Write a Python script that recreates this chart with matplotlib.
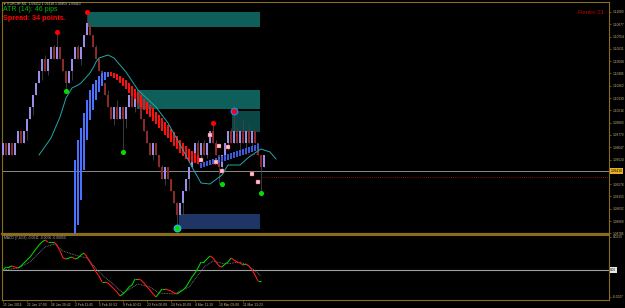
import matplotlib.pyplot as plt
from matplotlib.collections import LineCollection
from matplotlib.patches import Rectangle
import numpy as np

plt.rcParams['font.family'] = ['Liberation Sans', 'DejaVu Sans']

# EURCHF renko bricks (close of each brick, open = previous close)
first_open = 1.0957
closes = [1.0969, 1.0957, 1.0969, 1.0957, 1.0969, 1.0981, 1.0969, 1.0981,
          1.0993, 1.1005, 1.1017, 1.1029, 1.1041, 1.1053, 1.1041, 1.1053,
          1.1065, 1.1053, 1.1065, 1.1053, 1.1041, 1.1029, 1.1041, 1.1053,
          1.1065, 1.1053, 1.1065, 1.1077, 1.1089, 1.1077, 1.1065, 1.1053,
          1.1041, 1.1029, 1.1017, 1.1005, 1.0993, 1.1005, 1.0993, 1.1005,
          1.0993, 1.1005, 1.1017, 1.1005, 1.1017, 1.1005, 1.0993, 1.0981,
          1.0969, 1.0957, 1.0969, 1.0957, 1.0945, 1.0933, 1.0945, 1.0933,
          1.0921, 1.0909, 1.0897, 1.0909, 1.0921, 1.0933, 1.0945, 1.0957,
          1.0969, 1.0957, 1.0969, 1.0957, 1.0969, 1.0981, 1.0969, 1.0957,
          1.0945, 1.0957, 1.0969, 1.0981, 1.0969, 1.0981, 1.0969, 1.0981,
          1.0969, 1.0981, 1.0969, 1.0981, 1.0969, 1.0957, 1.0945, 1.0957]

wick_high = {14: 1.1057, 17: 1.1067, 18: 1.1080, 25: 1.1067, 28: 1.1100,
             31: 1.1067, 33: 1.1042, 35: 1.1022, 38: 1.1012, 43: 1.1020,
             46: 1.1007, 48: 1.0982, 51: 1.0967, 53: 1.0947, 56: 1.0932,
             65: 1.0972, 67: 1.0972, 70: 1.0989, 71: 1.0972, 76: 1.0984,
             77: 1.1001, 78: 1.0984, 80: 1.0992, 82: 1.0987}
wick_low = {8: 1.0972, 10: 1.0997, 13: 1.1032, 15: 1.1037, 21: 1.1021,
            23: 1.1032, 26: 1.1047, 37: 1.0987, 40: 1.0962, 41: 1.0984,
            44: 1.1000, 50: 1.0952, 54: 1.0927, 58: 1.0884, 60: 1.0897,
            62: 1.0922, 64: 1.0952, 66: 1.0952, 68: 1.0954, 72: 1.0928,
            73: 1.0942, 75: 1.0962, 79: 1.0962, 81: 1.0962, 83: 1.0962,
            86: 1.0919}

# smoothed overlay bars (blue up / red down), starting at brick 24
b_start = 24
b_open = [1.0877, 1.0887, 1.0912, 1.0942, 1.0972, 1.0992, 1.1002, 1.1012,
          1.1020, 1.1026, 1.1032, 1.1035, 1.1040, 1.1039, 1.1038, 1.1036,
          1.1034, 1.1032, 1.1029, 1.1026, 1.1023, 1.1020, 1.1017, 1.1013,
          1.1010, 1.1007, 1.1004, 1.1000, 1.0997, 1.0994, 1.0990, 1.0987,
          1.0983, 1.0980, 1.0976, 1.0972, 1.0969, 1.0966, 1.0963, 1.0961,
          1.0959, 1.0957, 1.0944, 1.0945, 1.0946, 1.0947, 1.0948, 1.0948,
          1.0949, 1.0950, 1.0951, 1.0952, 1.0953, 1.0954, 1.0955, 1.0956,
          1.0957, 1.0958, 1.0959, 1.0960, 1.0961, 1.0962]
b_close = [1.0952, 1.0972, 1.0984, 1.0999, 1.1012, 1.1022, 1.1028, 1.1032,
           1.1036, 1.1039, 1.1040, 1.1040, 1.1036, 1.1034, 1.1032, 1.1029,
           1.1026, 1.1023, 1.1019, 1.1016, 1.1013, 1.1009, 1.1005, 1.1002,
           1.0998, 1.0995, 1.0991, 1.0988, 1.0984, 1.0981, 1.0977, 1.0974,
           1.0970, 1.0966, 1.0963, 1.0959, 1.0956, 1.0953, 1.0951, 1.0950,
           1.0949, 1.0948, 1.0949, 1.0950, 1.0951, 1.0952, 1.0953, 1.0954,
           1.0955, 1.0956, 1.0957, 1.0958, 1.0959, 1.0960, 1.0961, 1.0962,
           1.0963, 1.0964, 1.0965, 1.0966, 1.0967, 1.0968]

# moving average (teal)
ma_bar = [12, 16, 19, 21, 23, 25, 26, 29, 30, 31, 32, 35, 37, 41, 45, 51,
          55, 60, 63, 66, 69, 73, 75, 79, 82, 86, 89, 91]
ma_val = [1.0957, 1.0974, 1.0995, 1.1014, 1.1024, 1.1027, 1.1029, 1.1039,
          1.1044, 1.1050, 1.1054, 1.1057, 1.1054, 1.1040, 1.1022, 1.1005,
          1.0989, 1.0962, 1.0945, 1.0929, 1.0928, 1.0937, 1.0947, 1.0947,
          1.0955, 1.0963, 1.0960, 1.0953]

# supply / demand zones
zone_x0 = [28.2, 44.8, 76.5, 58.8]
zone_x1 = [85.8, 85.8, 85.8, 85.8]
zone_top = [1.1100, 1.1022, 1.1001, 1.0898]
zone_bot = [1.1085, 1.1003, 1.0980, 1.0883]

sell_bar = [18, 28, 70, 77]
sell_px = [1.1080, 1.1100, 1.0989, 1.1001]
buy_bar = [21, 40, 73, 86, 58]
buy_px = [1.1021, 1.0960, 1.0928, 1.0919, 1.0884]

mark_bar = [66, 69, 71, 72, 73, 75, 83, 85]
mark_px = [1.0952, 1.0977, 1.0950, 1.0966, 1.0941, 1.0965, 1.0938, 1.0930]

bid = 1.0941
ask = 1.0935

# MACD (7,40,8)
macd = [0.0000, 0.0003, 0.0003, 0.0004, 0.0003, 0.0002, 0.0004, 0.0007,
        0.0010, 0.0013, 0.0017, 0.0021, 0.0025, 0.0028, 0.0030, 0.0028,
        0.0028, 0.0028, 0.0025, 0.0019, 0.0012, 0.0011, 0.0012, 0.0013,
        0.0011, 0.0012, 0.0015, 0.0017, 0.0013, 0.0008, 0.0003, -0.0002,
        -0.0006, -0.0012, -0.0012, -0.0013, -0.0016, -0.0019, -0.0022, -0.0026,
        -0.0024, -0.0021, -0.0017, -0.0015, -0.0009, -0.0009, -0.0010, -0.0013,
        -0.0017, -0.0020, -0.0024, -0.0027, -0.0023, -0.0019, -0.0019, -0.0020,
        -0.0021, -0.0023, -0.0024, -0.0022, -0.0020, -0.0017, -0.0012, -0.0007,
        -0.0003, 0.0002, 0.0008, 0.0008, 0.0011, 0.0014, 0.0012, 0.0008,
        0.0004, 0.0003, 0.0006, 0.0008, 0.0012, 0.0010, 0.0008, 0.0007,
        0.0005, 0.0006, 0.0004, 0.0000, -0.0005, -0.0011, -0.0011]
sig_bar = [0, 5, 9, 14, 17, 20, 25, 28, 32, 37, 40, 45, 49, 52, 57, 62, 67,
           70, 74, 79, 82, 86]
sig_val = [0.0000, 0.0002, 0.0008, 0.0023, 0.0026, 0.0019, 0.0014, 0.0012,
           -0.0002, -0.0015, -0.0023, -0.0014, -0.0017, -0.0023, -0.0024,
           -0.0017, 0.0003, 0.0009, 0.0006, 0.0008, 0.0004, -0.0006]

date_bar = [0, 8, 16, 24, 32, 40, 48, 56, 64, 72, 80]
date_labels = ['15 Jan 2016', '21 Jan 17:00', '26 Jan 20:42', '2 Feb 11:45',
               '5 Feb 16:52', '9 Feb 20:02', '23 Feb 00:09', '24 Feb 10:09',
               '4 Mar 11:10', '10 Mar 09:00', '11 Mar 13:23']

gold = '#8a6d1a'
lab = '#c8b47a'

fig = plt.figure(figsize=(6.25, 3.08), dpi=100, facecolor='black')
W, H = 625, 308
ax = fig.add_axes([2 / W, 1 - 234 / H, 607 / W, 232 / H], facecolor='black')
ax2 = fig.add_axes([2 / W, 1 - 300 / H, 607 / W, 65 / H], facecolor='black')

# 3 px per brick, bodies 2 px wide on whole pixels
xmin = -1 / 3
xmax = xmin + 607 / 3
bw = 2 / 3
for a in (ax, ax2):
    a.set_xlim(xmin, xmax)
    for s in a.spines.values():
        s.set_color(gold)
        s.set_linewidth(0.8)
ax.spines['bottom'].set_linewidth(1.6)
ax.set_ylim(1.0878, 1.1110)

# zones
zone_cols = ['#0e5e5a', '#0e5e5a', '#0b4744', '#1e3566']
for x0, x1, t, b, c in zip(zone_x0, zone_x1, zone_top, zone_bot, zone_cols):
    ax.add_patch(Rectangle((x0, b), x1 - x0, t - b, color=c, zorder=1, lw=0))

# bid / ask lines
ax.axhline(bid, color='#8c8c8c', lw=0.7, zorder=2)
ax.plot([86, xmax], [ask, ask], color='#b01010', lw=0.6, ls=(0, (1, 1.5)), zorder=2)
ax.plot([65, 72], [1.0948, 1.0948], color='#b01010', lw=0.6, ls=(0, (1, 1.5)), zorder=2)
ax.plot([80, 85], [1.0958, 1.0958], color='#b01010', lw=0.6, ls=(0, (1, 1.5)), zorder=2)

# renko bricks with wicks
opens = [first_open] + closes[:-1]
for i, (o, c) in enumerate(zip(opens, closes)):
    hi = wick_high.get(i, max(o, c))
    lo = wick_low.get(i, min(o, c))
    ax.vlines(i, lo, hi, color='#444444', lw=0.6, zorder=2)
    ax.bar(i, c - o, bottom=o, width=bw, antialiased=False,
           color='#9a8ee8' if c > o else '#8a2a2a', zorder=3, lw=0)

# overlay bars
for k, (o, c) in enumerate(zip(b_open, b_close)):
    up = c > o
    ax.bar(b_start + k, c - o, bottom=o, width=bw, antialiased=False,
           color=('#4a72ff' if k < 20 else '#3a5ad8') if up else '#ff1010',
           zorder=4, lw=0)

ax.plot(ma_bar, ma_val, color='#22a8a8', lw=0.7, zorder=5)

ax.scatter(mark_bar, mark_px, s=5, marker='s', color='#f4c8d4',
           edgecolors='#e03030', linewidths=0.3, zorder=6)

ax.scatter([sell_bar[3]], [sell_px[3]], s=22, color='#2a7ce8', zorder=6)
ax.scatter([buy_bar[4]], [buy_px[4]], s=22, color='#2ab0e0', zorder=6)
ax.scatter(sell_bar, sell_px, s=7, color='#ff0000', zorder=7)
ax.scatter(buy_bar, buy_px, s=7, color='#00e000', zorder=7)

# price axis (the tick under the bid box is left out)
yt = 1.1100 - np.arange(19) * 0.00123
yt = np.delete(yt, 13)
ax.yaxis.tick_right()
ax.set_yticks(yt)
ax.set_yticklabels([f'{v:.5f}' for v in yt])
ax.tick_params(axis='y', color=gold, labelcolor=lab, labelsize=2.3,
               length=1.5, width=0.5, pad=1)
ax.set_xticks([])
ax.text(1.002, bid, f'{bid:.5f}', transform=ax.get_yaxis_transform(),
        fontsize=2.3, va='center', ha='left', color='black',
        bbox=dict(boxstyle='square,pad=0.2', fc='#e8b020', ec='none'))

# MACD panel
ax2.set_ylim(-0.0030, 0.0035)
ax2.axhline(0, color='#a0a0a0', lw=0.8)
ax2.plot(sig_bar, sig_val, color='#8a8a8a', lw=0.6, ls=(0, (1, 1)))
pts = np.column_stack([np.arange(len(macd)), macd])
segs = np.stack([pts[:-1], pts[1:]], axis=1)
cols = ['#00d000' if b >= a else '#ff1a1a' for a, b in zip(macd[:-1], macd[1:])]
ax2.add_collection(LineCollection(segs, colors=cols, linewidths=0.8))

ax2.yaxis.tick_right()
ax2.set_yticks([0.0033, -0.0027])
ax2.set_yticklabels(['0.0033', '-0.0027'])
ax2.tick_params(axis='y', color=gold, labelcolor=lab, labelsize=2.3,
                length=1.5, width=0.5, pad=1)
ax2.text(1.002, 0, '0.00', transform=ax2.get_yaxis_transform(), fontsize=2.3,
         va='center', ha='left', color='black',
         bbox=dict(boxstyle='square,pad=0.2', fc='#e8e8e8', ec='none'))
ax2.set_xticks(date_bar)
ax2.set_xticklabels(date_labels)
ax2.tick_params(axis='x', color=gold, labelcolor=lab, labelsize=2.4,
                length=1.5, width=0.5, pad=0.8)
for t in ax2.get_xticklabels():
    t.set_horizontalalignment('left')

# texts
fig.text(3 / W, 1 - 4 / H, '▼ EURCHF,M1  1.09412 1.09418 1.09405 1.09410',
         fontsize=2.4, color='#c8c8c8', va='center')
fig.text(3 / W, 1 - 9.5 / H, 'ATR (14): 46 pips', fontsize=5.0,
         color='#00b400', va='center')
fig.text(3 / W, 1 - 18.5 / H, 'Spread: 34 points.', fontsize=5.2,
         color='#ff0000', va='center', fontweight='bold')
fig.text(604 / W, 1 - 12 / H, 'Renko 21', fontsize=4.4, color='#c00000',
         va='center', ha='right')
fig.text(4 / W, 1 - 238.5 / H, 'MACD (7,40,8) -0.0011 -0.0006 -0.00050',
         fontsize=2.4, color='#b0b0b0', va='center')

fig.savefig('out.png', dpi=100, facecolor='black')
